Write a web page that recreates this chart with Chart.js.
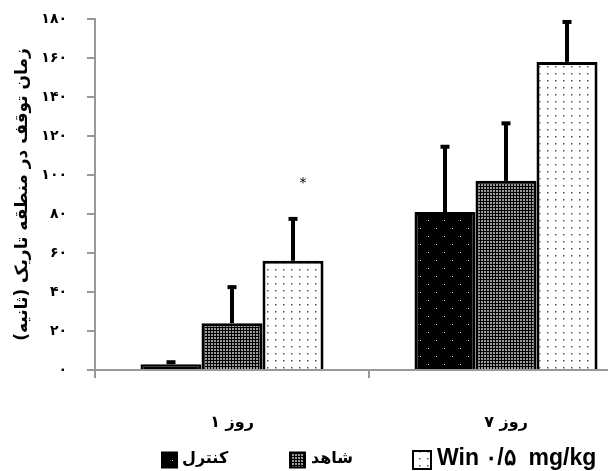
<!DOCTYPE html>
<html>
<head>
<meta charset="utf-8">
<script src="https://cdn.jsdelivr.net/npm/chart.js@4.4.1/dist/chart.umd.min.js"></script>
<style>
  html, body { margin: 0; padding: 0; background: #fff; overflow: hidden; }
  #wrap { width: 608px; height: 471px; overflow: hidden; }
</style>
</head>
<body>
<div id="wrap"><canvas id="c" width="660" height="471"></canvas></div>
<script>
// data
const categories = ['روز ۱', 'روز ۷'];
const seriesNames = ['کنترل', 'شاهد', 'Win ۰/۵  mg/kg'];
const controlValues = [3, 81];
const shamValues = [24, 97];
const winValues = [56, 158];
const controlErrors = [1.5, 34];
const shamErrors = [19, 30];
const winErrors = [22, 21];
const yTicks = [0, 20, 40, 60, 80, 100, 120, 140, 160, 180];
const starMarks = [{ series: 2, index: 0, text: '*' }];

const faDigits = '۰۱۲۳۴۵۶۷۸۹';
function toFa(n) {
  return String(n).replace(/\d/g, d => faDigits[d]);
}

// fill patterns
function makePattern(w, h, bg, dots, dotColor, size) {
  const c = document.createElement('canvas');
  c.width = w; c.height = h;
  const g = c.getContext('2d');
  g.fillStyle = bg;
  g.fillRect(0, 0, w, h);
  g.fillStyle = dotColor;
  dots.forEach(([x, y]) => g.fillRect(x, y, size, size));
  return g.createPattern(c, 'repeat');
}
const controlFill = makePattern(16, 16, '#000', [[4, 4], [12, 12]], '#e6e6e6', 1);
const shamFill = makePattern(3, 3, '#000', [[1, 1]], '#9a9a9a', 2);
const winFill = makePattern(8, 7, '#fff', [[3, 3]], '#555', 1.5);
const fills = [controlFill, shamFill, winFill];
const errors = [controlErrors, shamErrors, winErrors];

const errorBars = {
  id: 'errorBars',
  afterDatasetsDraw(chart) {
    const ctx = chart.ctx;
    const y = chart.scales.y;
    ctx.save();
    chart.data.datasets.forEach((ds, i) => {
      chart.getDatasetMeta(i).data.forEach((bar, j) => {
        const top = y.getPixelForValue(ds.data[j] + errors[i][j]);
        const x = bar.x;
        ctx.fillStyle = '#000';
        ctx.fillRect(x - 2, top, 4, bar.y - top);
        ctx.fillRect(x - 4.5, top - 1, 9, 4);
      });
    });
    ctx.font = '14px "DejaVu Sans"';
    ctx.textAlign = 'center';
    ctx.textBaseline = 'middle';
    starMarks.forEach(m => {
      const bar = chart.getDatasetMeta(m.series).data[m.index];
      const ds = chart.data.datasets[m.series];
      const top = y.getPixelForValue(ds.data[m.index] + errors[m.series][m.index]);
      ctx.fillText(m.text, bar.x + 10, top - 35);
    });
    ctx.restore();
  }
};

const bottomLegend = {
  id: 'bottomLegend',
  afterDraw(chart) {
    const ctx = chart.ctx;
    const cy = 459;
    const items = [
      { boxX: 162, size: 15, textX: 182, font: 'bold 16px "DejaVu Sans"' },
      { boxX: 290, size: 15, textX: 311, font: 'bold 16px "DejaVu Sans"' },
      { boxX: 413, size: 18, textX: 437, font: 'bold 23px "Liberation Sans"' }
    ];
    ctx.save();
    items.forEach((it, i) => {
      const s = it.size;
      ctx.fillStyle = fills[i];
      ctx.fillRect(it.boxX, cy - s / 2 + 1, s, s);
      ctx.strokeStyle = '#000';
      ctx.lineWidth = 2;
      ctx.strokeRect(it.boxX, cy - s / 2 + 1, s, s);
      ctx.fillStyle = '#000';
      ctx.font = it.font;
      ctx.textAlign = 'left';
      ctx.textBaseline = 'middle';
      ctx.fillText(seriesNames[i], it.textX, cy);
    });
    ctx.restore();
  }
};

new Chart(document.getElementById('c'), {
  type: 'bar',
  data: {
    labels: categories,
    datasets: [controlValues, shamValues, winValues].map((vals, i) => ({
      label: seriesNames[i],
      data: vals,
      backgroundColor: fills[i],
      borderColor: '#000',
      borderWidth: 3,
      categoryPercentage: 0.668,
      barPercentage: 1
    }))
  },
  options: {
    responsive: false,
    animation: false,
    layout: { padding: { top: 19, right: 17, bottom: 31, left: 0 } },
    plugins: {
      legend: { display: false },
      tooltip: { enabled: false }
    },
    scales: {
      x: {
        offset: true,
        grid: { offset: true, drawOnChartArea: false, tickLength: 8, color: '#999', lineWidth: 2 },
        border: { color: '#999', width: 2 },
        ticks: { color: '#000', font: { family: 'DejaVu Sans', size: 16, weight: 'bold' }, padding: 35 },
        afterFit(s) { s.height = 70; s.paddingLeft = 0; s.paddingRight = 0; }
      },
      y: {
        min: 0,
        max: 180,
        afterBuildTicks(s) { s.ticks = yTicks.map(v => ({ value: v })); },
        grid: { drawOnChartArea: false, tickLength: 8, color: '#999', lineWidth: 2 },
        border: { color: '#999', width: 2 },
        ticks: {
          color: '#000',
          font: { family: 'DejaVu Sans', size: 14, weight: 'bold' },
          padding: 20,
          callback: v => toFa(v)
        },
        title: {
          display: true,
          text: 'زمان توقف در منطقه تاریک (ثانیه)\u200F',
          color: '#000',
          font: { family: 'DejaVu Sans', size: 17, weight: 'bold' },
          padding: { top: 12, bottom: 0 }
        },
        afterFit(s) { s.width = 95; s.paddingTop = 0; s.paddingBottom = 0; }
      }
    }
  },
  plugins: [errorBars, bottomLegend]
});
</script>
</body>
</html>
